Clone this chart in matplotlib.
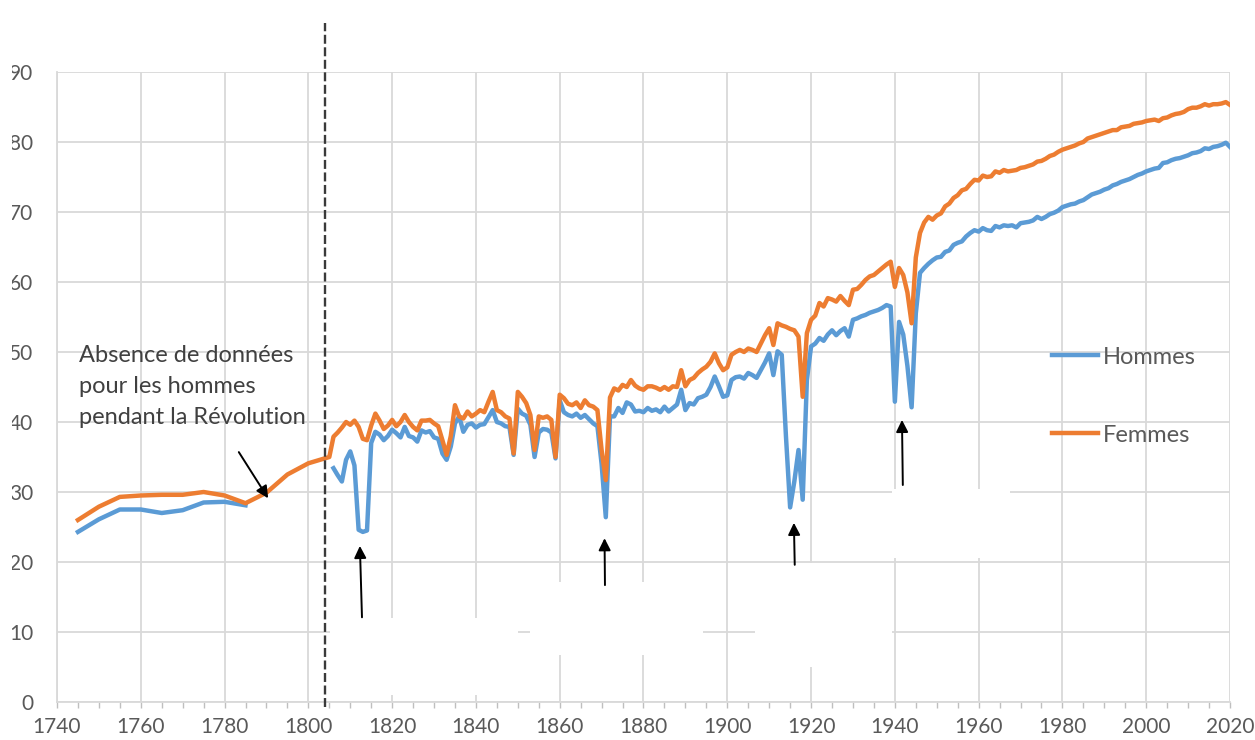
"""
Espérance de vie à la naissance en France, hommes et femmes, 1740-2020.
"""

import numpy as np
import matplotlib.pyplot as plt
from matplotlib.patches import Rectangle

plt.rcParams['font.family'] = ['Lato', 'DejaVu Sans']

BLUE = '#5B9BD5'
ORANGE = '#ED7D31'
GRID = '#d9d9d9'

# early estimates, 5-year points
early_years_h = [1745, 1750, 1755, 1760, 1765, 1770, 1775, 1780, 1785]
early_h = [24.3, 26.1, 27.5, 27.5, 27.0, 27.4, 28.5, 28.6, 28.1]
early_years_f = [1745, 1750, 1755, 1760, 1765, 1770, 1775, 1780, 1785,
                 1790, 1795, 1800, 1805]
early_f = [26.0, 27.9, 29.3, 29.5, 29.6, 29.6, 30.0, 29.5, 28.4,
           29.9, 32.5, 34.1, 35.0]

# annual values 1806-2020
years = list(range(1806, 2021))
hommes = [
    33.4, 32.4, 31.5, 34.6, 35.8, 33.8, 24.6, 24.3, 24.5, 37.0,  # 1806-1815
    38.6, 38.2, 37.4, 38.0, 38.9, 38.4, 37.8, 39.3, 38.0, 37.8,  # 1816-1825
    37.2, 38.8, 38.5, 38.7, 37.8, 37.6, 35.5, 34.6, 36.5, 39.8,  # 1826-1835
    40.8, 38.6, 39.6, 39.8, 39.2, 39.6, 39.7, 40.7, 41.7, 40.0,  # 1836-1845
    39.8, 39.4, 39.3, 35.3, 41.9, 41.2, 40.9, 39.6, 35.0, 38.5,  # 1846-1855
    39.0, 38.9, 38.5, 34.8, 43.1, 41.4, 41.0, 40.8, 41.2, 40.6,  # 1856-1865
    41.0, 40.4, 39.8, 39.4, 34.0, 26.4, 40.8, 40.8, 42.0, 41.3,  # 1866-1875
    42.8, 42.5, 41.5, 41.6, 41.4, 42.0, 41.6, 41.8, 41.4, 42.2,  # 1876-1885
    41.5, 42.0, 42.5, 44.6, 41.7, 42.7, 42.5, 43.4, 43.6, 43.9,  # 1886-1895
    45.0, 46.5, 45.1, 43.6, 43.8, 46.0, 46.4, 46.5, 46.2, 47.0,  # 1896-1905
    46.7, 46.3, 47.4, 48.5, 49.8, 46.7, 50.1, 49.6, 38.0, 27.8,  # 1906-1915
    31.5, 36.0, 28.9, 46.0, 50.8, 51.2, 52.0, 51.6, 52.5, 53.1,  # 1916-1925
    52.4, 53.0, 53.4, 52.2, 54.6, 54.8, 55.1, 55.3, 55.6, 55.8,  # 1926-1935
    56.0, 56.3, 56.7, 56.5, 42.9, 54.3, 52.5, 48.0, 42.1, 55.5,  # 1936-1945
    61.3, 62.0, 62.6, 63.1, 63.5, 63.6, 64.3, 64.5, 65.3, 65.6,  # 1946-1955
    65.8, 66.5, 67.0, 67.4, 67.2, 67.7, 67.4, 67.3, 68.0, 67.8,  # 1956-1965
    68.1, 68.0, 68.1, 67.8, 68.4, 68.5, 68.6, 68.8, 69.3, 69.0,  # 1966-1975
    69.3, 69.7, 69.9, 70.2, 70.7, 70.9, 71.1, 71.2, 71.5, 71.7,  # 1976-1985
    72.1, 72.5, 72.7, 72.9, 73.2, 73.4, 73.8, 74.0, 74.3, 74.5,  # 1986-1995
    74.7, 75.0, 75.3, 75.5, 75.8, 76.0, 76.2, 76.3, 77.0, 77.1,  # 1996-2005
    77.4, 77.6, 77.7, 77.9, 78.1, 78.4, 78.5, 78.7, 79.1, 79.0,  # 2006-2015
    79.3, 79.4, 79.6, 79.9, 79.3,                                # 2016-2020
]
femmes = [
    37.9, 38.5, 39.2, 40.0, 39.6, 40.2, 39.3, 37.6, 37.4, 39.5,  # 1806-1815
    41.2, 40.2, 39.0, 39.5, 40.3, 39.4, 40.0, 41.0, 40.0, 39.3,  # 1816-1825
    38.8, 40.2, 40.2, 40.3, 39.8, 39.4, 37.4, 35.3, 38.0, 42.4,  # 1826-1835
    40.8, 40.5, 41.5, 40.8, 41.2, 41.7, 41.4, 42.9, 44.3, 41.7,  # 1836-1845
    41.4, 40.8, 40.5, 35.5, 44.3, 43.6, 42.7, 41.0, 36.0, 40.8,  # 1846-1855
    40.6, 40.8, 40.3, 35.0, 43.9, 43.4, 42.6, 42.4, 42.8, 42.0,  # 1856-1865
    43.1, 42.4, 42.2, 41.7, 36.0, 31.7, 43.5, 44.8, 44.5, 45.3,  # 1866-1875
    45.0, 46.0, 45.2, 44.8, 44.6, 45.1, 45.1, 44.9, 44.6, 45.0,  # 1876-1885
    44.6, 45.1, 45.0, 47.4, 45.1, 46.0, 46.3, 47.0, 47.5, 47.9,  # 1886-1895
    48.6, 49.8, 48.4, 47.4, 47.8, 49.6, 50.0, 50.3, 50.0, 50.5,  # 1896-1905
    50.3, 50.0, 51.2, 52.4, 53.4, 51.0, 54.1, 53.8, 53.6, 53.3,  # 1906-1915
    53.1, 52.2, 43.6, 52.7, 54.6, 55.2, 57.0, 56.5, 57.7, 57.5,  # 1916-1925
    57.2, 58.0, 57.3, 56.7, 58.9, 59.0, 59.6, 60.3, 60.8, 61.0,  # 1926-1935
    61.5, 62.0, 62.5, 62.9, 59.3, 62.0, 61.0, 58.5, 54.1, 63.5,  # 1936-1945
    67.0, 68.5, 69.3, 68.9, 69.5, 69.8, 70.8, 71.2, 72.0, 72.4,  # 1946-1955
    73.1, 73.3, 74.0, 74.6, 74.5, 75.2, 75.0, 75.1, 75.8, 75.6,  # 1956-1965
    76.0, 75.8, 75.9, 76.0, 76.3, 76.4, 76.6, 76.8, 77.2, 77.3,  # 1966-1975
    77.6, 78.0, 78.2, 78.6, 78.9, 79.1, 79.3, 79.5, 79.8, 80.0,  # 1976-1985
    80.5, 80.7, 80.9, 81.1, 81.3, 81.5, 81.7, 81.7, 82.1, 82.2,  # 1986-1995
    82.3, 82.6, 82.7, 82.8, 83.0, 83.1, 83.2, 83.0, 83.4, 83.5,  # 1996-2005
    83.8, 84.0, 84.1, 84.3, 84.7, 84.9, 84.9, 85.1, 85.4, 85.2,  # 2006-2015
    85.4, 85.4, 85.5, 85.7, 85.3,                                # 2016-2020
]

# men: no data during the Revolution -> gap
x_h = early_years_h + [1795] + years
y_h = early_h + [np.nan] + hommes
x_f = early_years_f + years
y_f = early_f + femmes

REVOLUTION_END = 1804

# arrows (tail -> head), data coords
arrows = [
    ((1783.4, 35.7), (1790.4, 29.1)),
    ((1812.8, 12.1), (1812.3, 22.3)),
    ((1870.8, 16.7), (1870.7, 23.4)),
    ((1916.1, 19.6), (1915.9, 25.6)),
    ((1941.9, 31.0), (1941.7, 40.3)),
]

# redacted areas in the source picture (x0, y0, width, height)
masks = [
    (1805.2, 1.0, 44.8, 11.0),
    (1852.9, 6.7, 41.3, 10.4),
    (1906.6, 5.0, 32.7, 14.9),
    (1939.4, 20.6, 28.0, 9.8),
]

fig = plt.figure(figsize=(12.55, 7.4), dpi=100)
ax = fig.add_axes([57 / 1255, 38 / 740, 1173 / 1255, 630 / 740])

ax.plot(x_h, y_h, color=BLUE, lw=3.2, label='Hommes', solid_joinstyle='round', zorder=3)
ax.plot(x_f, y_f, color=ORANGE, lw=3.2, label='Femmes', solid_joinstyle='round', zorder=4)

ax.set_xlim(1740, 2020)
ax.set_ylim(0, 90)
ax.set_xticks(range(1740, 2021, 20))
ax.set_xticks(range(1740, 2021, 5), minor=True)
ax.set_yticks(range(0, 91, 10))
ax.set_axisbelow(True)
ax.grid(True, color=GRID, lw=1.3)
for s in ['top', 'right']:
    ax.spines[s].set_visible(False)
for s in ['left', 'bottom']:
    ax.spines[s].set_color(GRID)
    ax.spines[s].set_linewidth(1.3)
ax.tick_params(axis='x', which='both', length=4, color='#bfbfbf', width=1,
               pad=7, labelsize=15, labelcolor='#595959')
ax.tick_params(axis='y', length=0, pad=17, labelsize=15, labelcolor='#595959')

for x0, y0, w, h in masks:
    ax.add_patch(Rectangle((x0, y0), w, h, facecolor='white', edgecolor='none', zorder=1))

ax.vlines(REVOLUTION_END, -0.7, 97, colors='#3a3a3a', lw=1.7,
          linestyles=(0, (3.8, 1.5)), clip_on=False, zorder=5)

ax.text(1745.3, 51.0, 'Absence de données\npour les hommes\npendant la Révolution',
        fontsize=17, color='#404040', va='top', ha='left', linespacing=1.58)

for tail, head in arrows:
    ax.annotate('', xy=head, xytext=tail,
                arrowprops=dict(arrowstyle='-|>', color='black', lw=1.4,
                                mutation_scale=18, shrinkA=0, shrinkB=0),
                zorder=6)

leg = ax.legend(loc='upper left', bbox_to_anchor=(0.848, 0.564), frameon=False,
                fontsize=17, handlelength=1.95, handletextpad=0.2,
                labelspacing=2.41, borderpad=0, borderaxespad=0)
for t in leg.get_texts():
    t.set_color('#595959')

# left edge of the source picture is cut
fig.add_artist(Rectangle((0, 0), 12 / 1255, 1, transform=fig.transFigure,
                         facecolor='white', edgecolor='none', zorder=10))

fig.savefig('out.png', dpi=100)
